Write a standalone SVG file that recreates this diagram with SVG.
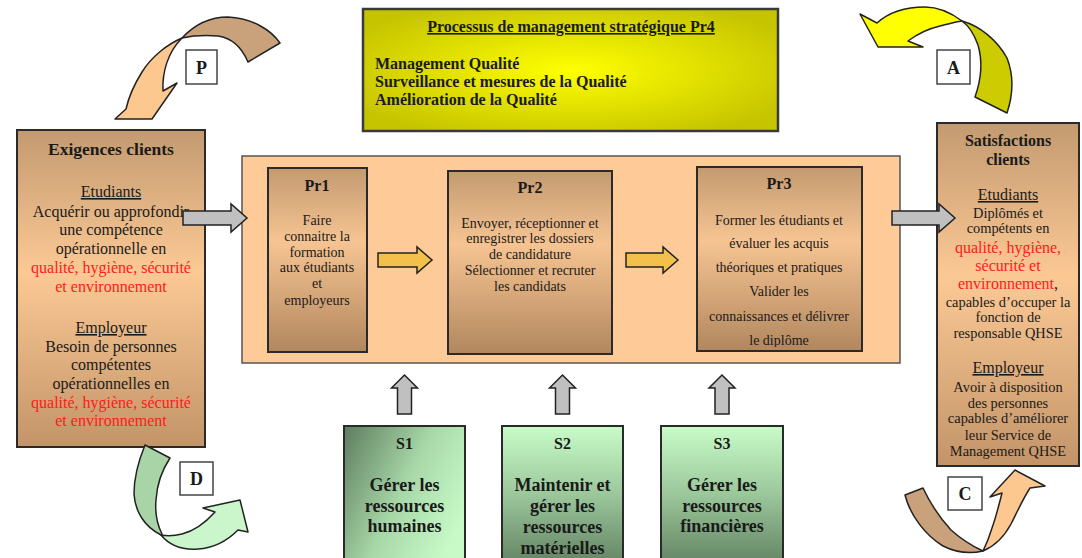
<svg xmlns="http://www.w3.org/2000/svg" width="1082" height="558" viewBox="0 0 1082 558">
<defs>
<style>
.t{font-family:"Liberation Serif","Times New Roman",serif;fill:#1a1a1a;text-anchor:middle}
.b{font-weight:bold}
.u{text-decoration:underline}
.red{fill:#ff1a1a}
.box{stroke:#2a2a2a;stroke-width:2}
.arr{stroke:#222;stroke-width:1.5;stroke-linejoin:miter}
.gray{fill:#c0c0c0}
.gold{fill:#f4c04c}
.lab{fill:#fff;stroke:#444;stroke-width:1.5}
.cyc{stroke:#222;stroke-width:1.5;stroke-linejoin:round}
</style>
<radialGradient id="gY" cx="0.5" cy="0.5" r="0.6">
<stop offset="0" stop-color="#ffff00"/><stop offset="1" stop-color="#c6c400"/>
</radialGradient>
<linearGradient id="gTan" x1="0" y1="0" x2="0" y2="1">
<stop offset="0" stop-color="#c39a70"/><stop offset="0.45" stop-color="#fcc995"/><stop offset="1" stop-color="#c29468"/>
</linearGradient>
<linearGradient id="gPr" x1="0" y1="0" x2="0" y2="1">
<stop offset="0" stop-color="#c39a70"/><stop offset="0.4" stop-color="#f6c492"/><stop offset="1" stop-color="#b2875e"/>
</linearGradient>
<linearGradient id="gG" x1="0" y1="0" x2="0" y2="1">
<stop offset="0" stop-color="#c8fcc8"/><stop offset="0.45" stop-color="#9cc89c"/><stop offset="1" stop-color="#5a785a"/>
</linearGradient>
<linearGradient id="gG1" x1="0" y1="0" x2="1" y2="0.6">
<stop offset="0" stop-color="#5e7c5e"/><stop offset="0.55" stop-color="#a8d8a8"/><stop offset="1" stop-color="#c8fac8"/>
</linearGradient>
<clipPath id="cPr3"><rect x="697" y="167" width="165" height="180"/></clipPath>
</defs>
<rect width="1082" height="558" fill="#fff"/>

<g id="pr4">
<rect x="363" y="9" width="415" height="122" fill="url(#gY)" stroke="#3a3a3a" stroke-width="2.5"/>
<text class="t b u" x="571" y="32" font-size="16">Processus de management stratégique Pr4</text>
<text class="t b" x="375" y="69" font-size="16" style="text-anchor:start">Management Qualité</text>
<text class="t b" x="375" y="87" font-size="16" style="text-anchor:start">Surveillance et mesures de la Qualité</text>
<text class="t b" x="375" y="105" font-size="16" style="text-anchor:start">Amélioration de la Qualité</text>
</g>

<g id="exigences">
<rect class="box" x="17" y="130" width="188" height="317" fill="url(#gTan)"/>
<text class="t b" x="111" y="155" font-size="17.5">Exigences clients</text>
<text class="t u" x="111" y="197" font-size="16">Etudiants</text>
<text class="t" x="111" y="217" font-size="16">Acquérir ou approfondir</text>
<text class="t" x="111" y="235" font-size="16">une compétence</text>
<text class="t" x="111" y="254" font-size="16">opérationnelle en</text>
<text class="t red" x="111" y="273" font-size="16">qualité, hygiène, sécurité</text>
<text class="t red" x="111" y="292" font-size="16">et environnement</text>
<text class="t u" x="111" y="333" font-size="16">Employeur</text>
<text class="t" x="111" y="352" font-size="16">Besoin de personnes</text>
<text class="t" x="111" y="370" font-size="16">compétentes</text>
<text class="t" x="111" y="389" font-size="16">opérationnelles en</text>
<text class="t red" x="111" y="408" font-size="16">qualité, hygiène, sécurité</text>
<text class="t red" x="111" y="426" font-size="16">et environnement</text>
</g>

<g id="process">
<rect x="242" y="156" width="658" height="207" fill="#fdca98" stroke="#555" stroke-width="1.5"/>
</g>

<g id="pr1">
<rect class="box" x="268" y="168" width="99" height="184" fill="url(#gPr)"/>
<text class="t b" x="317" y="191" font-size="16">Pr1</text>
<text class="t" x="317" y="225" font-size="14">Faire</text>
<text class="t" x="317" y="241" font-size="14">connaitre la</text>
<text class="t" x="317" y="257" font-size="14">formation</text>
<text class="t" x="317" y="272" font-size="14">aux étudiants</text>
<text class="t" x="317" y="288" font-size="14">et</text>
<text class="t" x="317" y="305" font-size="14">employeurs</text>
</g>

<g id="pr2">
<rect class="box" x="448" y="171" width="164" height="183" fill="url(#gPr)"/>
<text class="t b" x="530" y="193" font-size="16">Pr2</text>
<text class="t" x="530" y="228" font-size="14">Envoyer, réceptionner et</text>
<text class="t" x="530" y="243" font-size="14">enregistrer les dossiers</text>
<text class="t" x="530" y="259" font-size="14">de candidature</text>
<text class="t" x="530" y="275" font-size="14">Sélectionner et recruter</text>
<text class="t" x="530" y="291" font-size="14">les candidats</text>
</g>

<g id="pr3">
<rect class="box" x="697" y="167" width="165" height="184" fill="url(#gPr)"/>
<g clip-path="url(#cPr3)">
<text class="t b" x="779" y="189" font-size="16">Pr3</text>
<text class="t" x="779" y="225" font-size="14">Former les étudiants et</text>
<text class="t" x="779" y="248" font-size="14">évaluer les acquis</text>
<text class="t" x="779" y="272" font-size="14">théoriques et pratiques</text>
<text class="t" x="779" y="296" font-size="14">Valider les</text>
<text class="t" x="779" y="321" font-size="14">connaissances et délivrer</text>
<text class="t" x="779" y="345" font-size="14">le diplôme</text>
</g>
</g>

<g id="satisfactions">
<rect class="box" x="937" y="123" width="142" height="343" fill="url(#gTan)"/>
<text class="t b" x="1008" y="146" font-size="16">Satisfactions</text>
<text class="t b" x="1008" y="165" font-size="16">clients</text>
<text class="t u" x="1008" y="200" font-size="16">Etudiants</text>
<text class="t" x="1008" y="218" font-size="14.4">Diplômés et</text>
<text class="t" x="1008" y="233" font-size="14.4">compétents en</text>
<text class="t red" x="1008" y="253" font-size="16">qualité, hygiène,</text>
<text class="t red" x="1008" y="271" font-size="16">sécurité et</text>
<text class="t" x="1008" y="289" font-size="16"><tspan class="red">environnement</tspan>,</text>
<text class="t" x="1008" y="307" font-size="14.4">capables d’occuper la</text>
<text class="t" x="1008" y="322" font-size="14.4">fonction de</text>
<text class="t" x="1008" y="338" font-size="14.4">responsable QHSE</text>
<text class="t u" x="1008" y="373" font-size="16">Employeur</text>
<text class="t" x="1008" y="392" font-size="14.4">Avoir à disposition</text>
<text class="t" x="1008" y="408" font-size="14.4">des personnes</text>
<text class="t" x="1008" y="423" font-size="14.4">capables d’améliorer</text>
<text class="t" x="1008" y="440" font-size="14.4">leur Service de</text>
<text class="t" x="1008" y="456" font-size="14.4">Management QHSE</text>
</g>

<g id="s1">
<rect class="box" x="344" y="426" width="121" height="150" fill="url(#gG1)"/>
<text class="t b" x="404.5" y="449" font-size="16">S1</text>
<text class="t b" x="404.5" y="491" font-size="18">Gérer les</text>
<text class="t b" x="404.5" y="512" font-size="18">ressources</text>
<text class="t b" x="404.5" y="532" font-size="18">humaines</text>
</g>
<g id="s2">
<rect class="box" x="502" y="426" width="121" height="150" fill="url(#gG)"/>
<text class="t b" x="562.5" y="449" font-size="16">S2</text>
<text class="t b" x="562.5" y="491" font-size="18">Maintenir et</text>
<text class="t b" x="562.5" y="512" font-size="18">gérer les</text>
<text class="t b" x="562.5" y="533" font-size="18">ressources</text>
<text class="t b" x="562.5" y="554" font-size="18">matérielles</text>
</g>
<g id="s3">
<rect class="box" x="661" y="426" width="122" height="150" fill="url(#gG)"/>
<text class="t b" x="722" y="449" font-size="16">S3</text>
<text class="t b" x="722" y="491" font-size="18">Gérer les</text>
<text class="t b" x="722" y="512" font-size="18">ressources</text>
<text class="t b" x="722" y="532" font-size="18">financières</text>
</g>

<g id="connectors">
<path class="arr gray" d="M183,211 H231 V204 L247,218 L231,232 V225 H183 Z"/>
<path class="arr gray" d="M892,211 H939 V204 L955,218 L939,232 V225 H892 Z"/>
<path class="arr gold" d="M378,253 H417 V247 L432,260 L417,273 V267 H378 Z"/>
<path class="arr gold" d="M626,253 H663 V247 L678,260 L663,273 V267 H626 Z"/>
<path class="arr gray" d="M397.5,414 V388 H391.5 L404.5,375 L417.5,388 H411.5 V414 Z"/>
<path class="arr gray" d="M555.5,414 V388 H549.5 L562.5,375 L575.5,388 H569.5 V414 Z"/>
<path class="arr gray" d="M715,414 V388 H709 L722,375 L735,388 H729 V414 Z"/>
</g>

<g id="cycle">
<path class="cyc" fill="#c9a27b" d="M182,38 C195,24 210,17 228,17 C252,18 271,30 280,43 L248,62 C242,48 232,38 218,36 C204,35 191,36 182,38 Z"/>
<path class="cyc" fill="#fdc890" d="M182,38 C168,44 152,56 142,72 C132,88 128,100 126,109 L115,119 L152,119 L177,83 L163,91 C162,72 168,52 182,38 Z"/>
<path class="cyc" fill="#cccc00" d="M962,21 C980,26 997,40 1007,58 C1014,76 1013,95 1007,113 L975,97 C981,80 983,62 978,45 C974,34 969,26 962,21 Z"/>
<path class="cyc" fill="#ffff00" d="M962,21 C950,12 938,7 925,7 C905,7 888,13 877,23 L860,14 L878,47 L923,47 L908,41 C916,35 927,29 940,26 C948,24 955,22 962,21 Z"/>
<path class="cyc" fill="#a8d4a8" d="M145,445 C138,462 134,478 134,494 C135,512 145,527 161,535 L162,534 C157,524 155,511 156,500 C157,484 162,470 170,458 Z"/>
<path class="cyc" fill="#cbf6cb" d="M161,535 C170,546 184,550 198,549 C215,548 228,540 238,530 L248,532 L240,500 L203,508 L215,512 C206,522 194,531 182,534 C174,536 167,536 161,535 Z"/>
<path class="cyc" fill="#c9a27b" d="M905,495 C910,515 925,535 943,546 C957,553 970,554 983,551 C972,546 960,538 951,530 C940,518 930,503 923,488 Z"/>
<path class="cyc" fill="#fdc890" d="M983,551 C995,546 1004,537 1011,524 C1018,510 1024,497 1030,488 L1045,486 L1015,470 L990,497 L1002,493 C999,505 996,517 992,528 C989,538 986,545 983,551 Z"/>
</g>

<g id="label-P">
<rect class="lab" x="186" y="50" width="31" height="34"/>
<text class="t b" x="201.5" y="74" font-size="18">P</text>
</g>
<g id="label-A">
<rect class="lab" x="937" y="50" width="33" height="34"/>
<text class="t b" x="953.5" y="74" font-size="18" fill="#444">A</text>
</g>
<g id="label-D">
<rect class="lab" x="180" y="462" width="33" height="33"/>
<text class="t b" x="196.5" y="485" font-size="18">D</text>
</g>
<g id="label-C">
<rect class="lab" x="948" y="477" width="34" height="33"/>
<text class="t b" x="965" y="500" font-size="18">C</text>
</g>
</svg>
